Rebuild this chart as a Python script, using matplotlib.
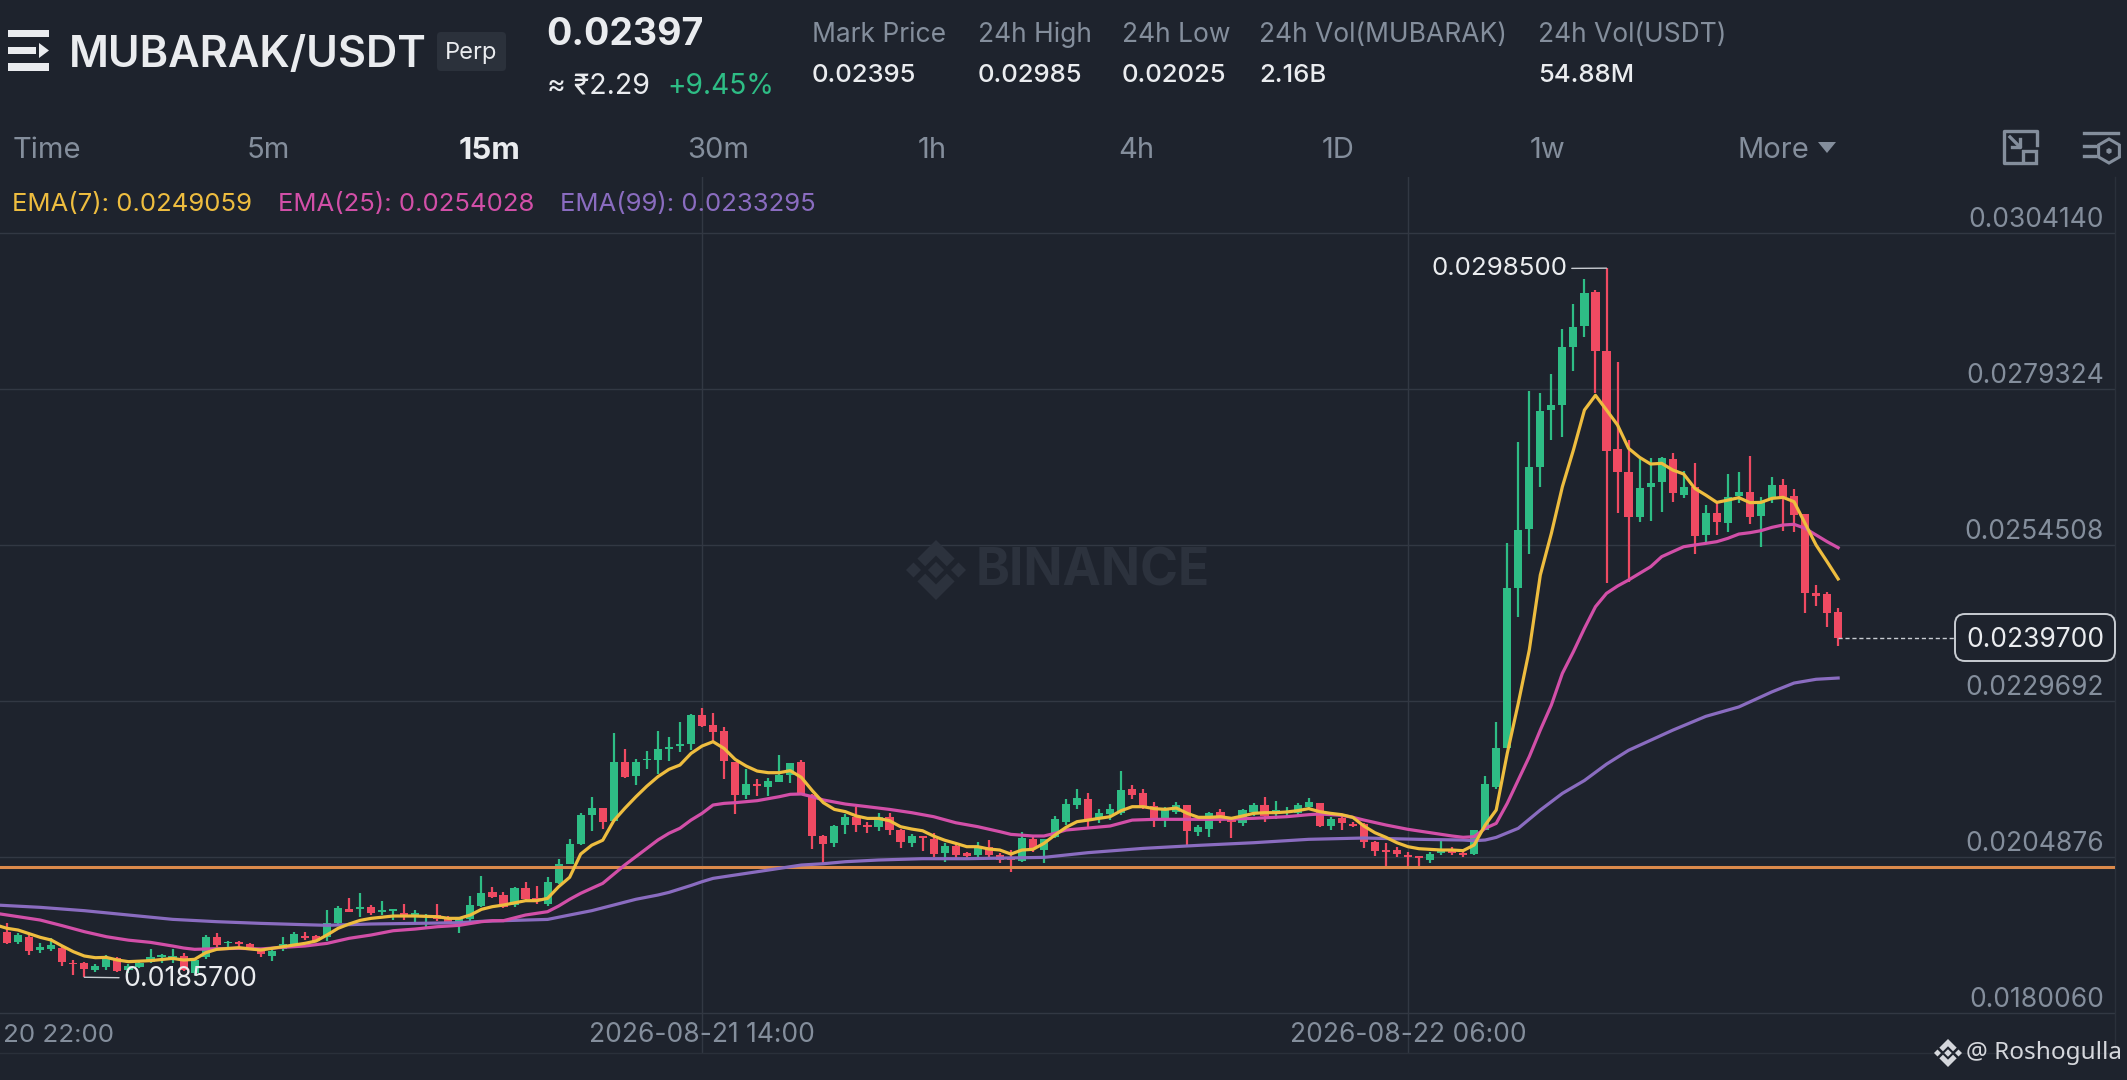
import numpy as np
import matplotlib
matplotlib.use("Agg")
import matplotlib.pyplot as plt
from matplotlib.patches import FancyBboxPatch, Polygon, Rectangle, RegularPolygon

plt.rcParams['font.family'] = ['Inter', 'DejaVu Sans']

# price unit used in the lists below
UNIT = 1e-5

# candle index, 0 is 2026-08-21 14:00, 15m candles
first_candle = -63

opens = [
    1929.5, 1913.6, 1920.5, 1900.3, 1901.4, 1903, 1880.2, 1879.1, 1868.5, 1873.8,
    1888.1, 1868.5, 1873.8, 1881.8, 1889.7, 1885.5, 1890.8, 1863.7, 1888.6, 1921.5,
    1911, 1912.5, 1909.9, 1901.4, 1890.8, 1902.4, 1909.9, 1923.1, 1922.6, 1920.5,
    1942.7, 1965, 1965, 1969.3, 1960.8, 1962.9, 1959.7, 1953.3, 1953.3, 1956,
    1952.3, 1942.7, 1949, 1970.3, 1993, 1987.8, 1972, 1998.5, 1982.5, 1973.5,
    2007.4, 2037.1, 2068.9, 2114.5, 2126.2, 2106, 2198.8, 2177.1, 2202, 2202.5,
    2220.6, 2224.8, 2228, 2273.6, 2257.7, 2249.2, 2199.4, 2146.9, 2164.4, 2160.1,
    2168.1, 2179.2, 2199.4, 2146.9, 2081.6, 2070, 2099.1, 2111.3, 2098.6, 2096.5,
    2111.3, 2091.2, 2071, 2081.6, 2077.4, 2054, 2065.7, 2054, 2050.9, 2064.7,
    2051.5, 2048.8, 2042.4, 2077.4, 2059.4, 2080.6, 2104.5, 2131, 2141, 2108.2,
    2116.7, 2117.7, 2155.9, 2149.6, 2129.4, 2109.8, 2120.4, 2130.5, 2088, 2092.3,
    2120.4, 2108.2, 2102.9, 2120.4, 2131, 2117.7, 2117.7, 2118.8, 2128.3, 2134.7,
    2097.6, 2109.8, 2100.8, 2100.8, 2072.7, 2059.4, 2059.4, 2051.5, 2049.9, 2043.5,
    2054.1, 2059.4, 2055.2, 2053, 2091.2, 2160.2, 2221, 2475.6, 2569.5, 2669.2,
    2759.4, 2767.3, 2859, 2893, 2947.6, 2853.7, 2697.3, 2660.2, 2589.7, 2636.3,
    2645.3, 2680.9, 2624.1, 2637.4, 2561, 2595, 2580.1, 2622.5, 2629.4, 2590.7,
    2618.8, 2640, 2622.5, 2593.9, 2467.7, 2466.6, 2437.4,
]
highs = [
    1942.7, 1928, 1924, 1910.9, 1918.9, 1906.7, 1884.4, 1881.8, 1878, 1892.4,
    1889.7, 1878, 1884.4, 1902.4, 1893.4, 1901.4, 1896, 1888, 1924.7, 1926.8,
    1914, 1915, 1912, 1903.5, 1901.4, 1920.5, 1929, 1929, 1923.6, 1964,
    1970.3, 1982.5, 1990.5, 1971.9, 1978.8, 1966, 1973.5, 1964, 1957.6, 1973.5,
    1954.4, 1953.3, 1986.2, 2018, 2001, 1993, 2000, 2009, 2002, 2016,
    2044.5, 2076.3, 2118.8, 2143.1, 2126.2, 2245, 2219.5, 2204.7, 2217.4, 2248.2,
    2239.7, 2263, 2275.7, 2285.3, 2277.8, 2254.5, 2199.4, 2187.7, 2171.8, 2173.9,
    2210, 2197.2, 2202.5, 2148.5, 2083.8, 2099.7, 2116.6, 2128.3, 2103.9, 2118.8,
    2117.7, 2093.3, 2084.8, 2081.6, 2087, 2071, 2069, 2056.7, 2072, 2075.3,
    2054, 2059.4, 2088.6, 2080.6, 2077.4, 2113.5, 2140, 2155.9, 2149.6, 2124.1,
    2132.6, 2185.6, 2162.8, 2155.9, 2136.3, 2128.3, 2136.3, 2130.5, 2099.7, 2120.4,
    2124.1, 2112.4, 2124.1, 2134.7, 2144.2, 2137.4, 2128.3, 2134.7, 2142.7, 2134.7,
    2111.4, 2113.5, 2104.5, 2102.9, 2074.3, 2070, 2064.7, 2056.8, 2049.9, 2056.8,
    2075.3, 2064.7, 2056.8, 2091.2, 2177, 2263, 2547.2, 2709, 2790, 2786.9,
    2816.1, 2887.7, 2928, 2968.3, 2950.3, 2985, 2836.2, 2711.6, 2682.5, 2682.5,
    2685.1, 2691.5, 2662.8, 2675.6, 2608.2, 2610.9, 2657, 2661.2, 2686.2, 2620.4,
    2653.3, 2650, 2633.1, 2593.9, 2480.4, 2470.3, 2443.8,
]
lows = [
    1910, 1910, 1892.4, 1896, 1899.3, 1874.9, 1860.5, 1857, 1865.3, 1868.5,
    1865.9, 1863, 1871.7, 1879.1, 1879.1, 1880.2, 1867.4, 1860, 1885.5, 1904.6,
    1904.6, 1904.6, 1901.4, 1888.6, 1882.8, 1899.3, 1907.7, 1916.2, 1913, 1915.2,
    1941.7, 1960.8, 1952.3, 1956, 1956.5, 1948, 1948, 1945.4, 1937.4, 1947,
    1941.7, 1926.8, 1944.9, 1968.2, 1982.5, 1966.6, 1969.3, 1978.8, 1973.5, 1970.3,
    2005.3, 2037.1, 2067.9, 2090.1, 2092.2, 2104.4, 2174, 2163.3, 2188.2, 2180.3,
    2200.4, 2215.3, 2218.5, 2254.5, 2233.3, 2172.8, 2116.6, 2140, 2145.3, 2145.3,
    2168.1, 2166.5, 2146.9, 2061.5, 2038.2, 2063.6, 2084.8, 2088, 2087, 2090.1,
    2083.8, 2062.5, 2064.7, 2057.2, 2047.7, 2040.3, 2044.5, 2044.5, 2048.8, 2044.5,
    2038.2, 2024.9, 2040.3, 2056.7, 2039.3, 2078, 2098.6, 2124.1, 2095.5, 2102.9,
    2107.1, 2114.6, 2140, 2124.1, 2096.5, 2095.5, 2116.7, 2065.8, 2081.7, 2080.6,
    2102.9, 2078, 2097.6, 2113.5, 2104.5, 2109.2, 2113.5, 2115.1, 2124.1, 2095.5,
    2091.2, 2091.2, 2095.5, 2062, 2049.9, 2033.9, 2048.8, 2030.2, 2033.9, 2038.2,
    2051.5, 2051.5, 2047.7, 2051.5, 2091, 2157, 2221, 2430.6, 2530.3, 2637.4,
    2711.6, 2716.9, 2821.9, 2876, 2785.9, 2483.6, 2595, 2486.2, 2581.7, 2583.3,
    2597.6, 2613.5, 2618.8, 2530.3, 2549.9, 2560.5, 2565.8, 2610.9, 2578, 2542,
    2610.9, 2567, 2565.8, 2436.9, 2447.5, 2414.6, 2383.9,
]
closes = [
    1912, 1924, 1899.3, 1904.6, 1908.3, 1881.8, 1878.6, 1869.6, 1875.4, 1887,
    1867, 1874.9, 1880, 1888.6, 1892.4, 1890.8, 1868.5, 1884.4, 1921.5, 1908.3,
    1913.6, 1909.3, 1903, 1893.4, 1899.3, 1909.9, 1925.8, 1920, 1914.6, 1943.8,
    1967.1, 1960.8, 1969.3, 1959.7, 1964, 1965.5, 1953.3, 1959.7, 1956, 1949,
    1945.4, 1949, 1971.9, 1991.5, 1985, 1969.3, 1998.5, 1981, 1978.8, 2009,
    2037, 2068.9, 2115, 2125.6, 2104.4, 2199.4, 2176, 2199.4, 2204.7, 2220,
    2223.8, 2228, 2274.7, 2256.6, 2247.6, 2200.4, 2146.3, 2164.4, 2161.2, 2169.7,
    2178.7, 2197.2, 2146.9, 2081.6, 2068.9, 2097.5, 2111.3, 2098.6, 2095.4, 2111.3,
    2091.2, 2072.6, 2081.6, 2079, 2053, 2065.7, 2052, 2049.8, 2064.7, 2050.9,
    2043.5, 2043.5, 2078, 2061.5, 2077.4, 2108.2, 2132.6, 2141.6, 2108.2, 2118.8,
    2124.1, 2154.9, 2146.9, 2125.7, 2109.8, 2124.1, 2131, 2090.2, 2095.5, 2118.8,
    2108.2, 2104, 2123, 2131, 2113.5, 2123, 2122, 2131, 2136.3, 2097.6,
    2109.2, 2101.8, 2097.6, 2072.7, 2058.3, 2056.2, 2053, 2048.8, 2046.7, 2053,
    2059.4, 2054.1, 2051.5, 2091.2, 2163.9, 2221.1, 2475.6, 2568.4, 2669.2, 2758.3,
    2767.3, 2859, 2890.9, 2946, 2853.7, 2694.7, 2661.2, 2588.6, 2635.3, 2643.7,
    2682.5, 2626.8, 2637.4, 2558.9, 2595, 2581.2, 2621.5, 2629.4, 2589.7, 2613.5,
    2640, 2621, 2592.3, 2468.8, 2464, 2437, 2397,
]

# EMA lines at these candles
ema7_idx = [-64, -63, -62, -60, -59, -58, -57, -56, -55, -54, -53, -52, -50, -48, -47, -46, -45, -44, -42, -40,
            -38, -36, -35, -34, -33, -32, -31, -30, -28, -26, -24, -23, -22, -21, -20, -19, -18, -16, -15, -14,
            -13, -12, -11, -10, -9, -8, -7, -6, -5, -4, -3, -2, -1, 0, 1, 2, 3, 4, 5, 6,
            7, 8, 9, 10, 11, 12, 13, 14, 15, 16, 17, 18, 19, 20, 21, 22, 23, 24, 25, 26,
            27, 28, 29, 30, 31, 32, 33, 34, 35, 36, 37, 38, 39, 40, 41, 42, 43, 44, 45, 46,
            47, 48, 49, 50, 51, 52, 53, 54, 55, 56, 57, 58, 59, 60, 61, 62, 63, 64, 65, 66,
            67, 68, 69, 70, 71, 72, 73, 74, 75, 76, 77, 78, 79, 80, 81, 82, 83, 84, 85, 86,
            87, 88, 89, 90, 91, 92, 93, 94, 95, 96, 97, 98, 99, 100, 101, 102, 103]
ema7_vals = [1940, 1934.8, 1932.1, 1920.5, 1916.2, 1906.7, 1897.7, 1890.8, 1888.1, 1888.6, 1884.4, 1881.8, 1883.4, 1887, 1884.4, 1885.5, 1896, 1901.4, 1904, 1900.3,
             1905.6, 1910.9, 1914.6, 1924.2, 1934.8, 1941.7, 1947.5, 1950.7, 1954.4, 1954.4, 1953.3, 1950.7, 1950.7, 1956, 1965, 1969.3, 1971.9, 1978.8, 1978.8, 1982.5,
             2001, 2016, 2053, 2067, 2075, 2106, 2125.7, 2144, 2161, 2176, 2187.7, 2194.6, 2213, 2224.8, 2231.7, 2221, 2203.6, 2193, 2185, 2182.4,
             2182.4, 2185.6, 2175, 2153.8, 2134.7, 2124, 2120.4, 2113.5, 2109.7, 2109.7, 2106, 2096.5, 2092.8, 2090, 2081.6, 2075, 2070, 2064.7, 2064.7, 2061,
             2059.4, 2053, 2059.4, 2060.5, 2070, 2083.3, 2095.5, 2104.5, 2107, 2109.8, 2112.4, 2122, 2128.3, 2128.3, 2125.2, 2124.1, 2126.2, 2117.7, 2111.4, 2111.4,
             2112.4, 2109.8, 2113.5, 2117.7, 2118.8, 2118.8, 2119.9, 2122, 2125.2, 2120.4, 2117.7, 2115.6, 2111.4, 2097.6, 2087, 2079.6, 2071, 2064.7, 2061.5, 2060.5,
             2059.4, 2059.4, 2058.4, 2067.4, 2099, 2123, 2213, 2292.7, 2377.6, 2496.9, 2563, 2637.4, 2695.7, 2759.3, 2782.7, 2759.3, 2735.5, 2698.4, 2684, 2673.4,
             2674.5, 2663.9, 2657.5, 2634.7, 2624, 2612.4, 2616, 2619.9, 2612, 2612.4, 2618.8, 2620.4, 2613.5, 2579, 2544.6, 2518, 2490.6]

ema25_idx = [-64, -60, -58, -56, -54, -52, -50, -48, -47, -46, -44, -42, -40, -38, -36, -34, -32, -30, -28, -26,
             -24, -22, -20, -19, -18, -16, -14, -13, -12, -11, -10, -9, -8, -7, -6, -5, -4, -3, -2, -1,
             0, 1, 2, 3, 5, 7, 8, 9, 10, 11, 13, 15, 17, 19, 21, 23, 25, 27, 28, 30,
             31, 32, 33, 35, 37, 39, 41, 44, 47, 50, 53, 55, 56, 58, 59, 60, 62, 64, 66, 68,
             69, 70, 71, 72, 73, 74, 75, 76, 77, 78, 79, 80, 81, 82, 83, 84, 85, 86, 87, 88,
             89, 90, 91, 92, 93, 94, 95, 96, 97, 98, 99, 100, 101, 102, 103]
ema25_vals = [1958.7, 1948, 1939, 1929.5, 1921.5, 1916, 1912.5, 1906.7, 1903.5, 1901.4, 1902.4, 1903, 1902, 1904.6, 1906.7, 1910.9, 1918.9, 1924.2, 1931, 1933.7,
              1937.4, 1939.6, 1945.4, 1947, 1947, 1956, 1961.3, 1970.3, 1981, 1990.5, 1998.5, 2006.4, 2021, 2035.6, 2048.8, 2062, 2075.3, 2086, 2094, 2107,
              2117.7, 2131, 2133.6, 2134.7, 2137.9, 2144.2, 2148, 2148.5, 2144.2, 2139, 2132.5, 2128.3, 2124, 2118.8, 2112.4, 2102.8, 2096.5, 2088.6, 2084.3, 2081.7,
              2081.7, 2086, 2091.2, 2094.4, 2097.6, 2107, 2108.2, 2108.2, 2108.2, 2109.8, 2112.4, 2115.6, 2116.7, 2114.6, 2111.4, 2107.1, 2099.2, 2092.3, 2087, 2081.7,
              2079.6, 2080.6, 2093.9, 2101.8, 2133.6, 2170.8, 2207.9, 2250.3, 2290, 2340.4, 2374.9, 2412, 2446.5, 2467.7, 2479.3, 2488.9, 2499.5, 2510, 2526, 2534,
              2541.9, 2544.6, 2547.2, 2549.9, 2555.2, 2562, 2564.2, 2567.4, 2572.7, 2576.4, 2577.5, 2571.1, 2560.5, 2549.9, 2540.3]

ema99_idx = [-64, -60, -56, -52, -48, -44, -40, -36, -34, -30, -26, -22, -20, -19, -16, -14, -12, -10, -8, -6,
             -4, -3, -1, 0, 1, 3, 6, 9, 11, 13, 16, 20, 24, 27, 31, 35, 40, 45, 50, 55,
             60, 65, 69, 70, 71, 72, 74, 76, 78, 80, 82, 84, 88, 91, 94, 97, 99, 101, 103]
ema99_vals = [1971.9, 1968.2, 1962.9, 1956, 1949.1, 1945.4, 1942.7, 1940.6, 1939.6, 1941.7, 1942.7, 1943.8, 1945.9, 1946.5, 1948, 1949, 1956, 1962.9, 1971.9, 1981,
              1987.8, 1992, 2003, 2009, 2014.3, 2019.6, 2027.5, 2035.5, 2037.6, 2040.8, 2043.5, 2045.6, 2045.6, 2046.5, 2047.7, 2055.2, 2062, 2066.8, 2071, 2076.4,
              2078.5, 2076.4, 2075.3, 2074.2, 2075.3, 2079.5, 2093.9, 2123, 2149.5, 2170, 2196, 2218, 2250, 2272, 2287, 2311, 2325, 2331, 2333]

grid_prices = [0.0304140, 0.0279324, 0.0254508, 0.0229692, 0.0204876, 0.0180060]
grid_labels = ['0.0304140', '0.0279324', '0.0254508', '0.0229692', '0.0204876', '0.0180060']
time_ticks = [0, 64]
time_labels = ['2026-08-21 14:00', '2026-08-22 06:00']

level_price = 0.02033
last_price = 0.02397
high_price = 0.02985
high_candle = 82
low_price = 0.01857
low_candle = -56

stat_titles = ['Mark Price', '24h High', '24h Low', '24h Vol(MUBARAK)', '24h Vol(USDT)']
stat_values = ['0.02395', '0.02985', '0.02025', '2.16B', '54.88M']
intervals = ['Time', '5m', '15m', '30m', '1h', '4h', '1D', '1w']

BG = '#1e232d'
GRID = '#323843'
EDGE = '#2a303a'
UP = '#2ebd85'
DOWN = '#ef4a62'
GRAY = '#848e9c'
WHITE = '#eaecef'
EMA7 = '#eebd3f'
EMA25 = '#d24fa8'
EMA99 = '#8a6cc0'
W, H = 2127, 1080


def binance_logo(axis, cx, cy, s, color):
    # s is half the logo width in pixels
    for dx, dy, r in [(-0.75, 0, 0.25), (0.75, 0, 0.25), (0, 0, 0.27)]:
        axis.add_patch(RegularPolygon((cx + dx * s, cy + dy * s), 4, radius=r * s, color=color, linewidth=0))
    for sign in [-1, 1]:
        pts = [[0, 1], [0.62, 0.38], [0.36, 0.12], [0, 0.48], [-0.36, 0.12], [-0.62, 0.38]]
        axis.add_patch(Polygon([[cx + a * s, cy + sign * b * s] for a, b in pts], color=color, linewidth=0))


fig = plt.figure(figsize=(W / 100, H / 100), dpi=100, facecolor=BG)

# chart axes: one candle is 11.03 px, 0.0024816 is 156 px
left_i, right_i = -66, 128.1
left_px = 702 + left_i * 11.03
ax = fig.add_axes([left_px / W, (H - 1053) / H, (2115 - left_px) / W, (1053 - 177) / H], facecolor=BG)
ax.set_xlim(left_i, right_i)
ax.set_ylim(0.017365, 0.03130)

for s in ['left', 'top']:
    ax.spines[s].set_visible(False)
for s in ['right', 'bottom']:
    ax.spines[s].set_color(EDGE)
    ax.spines[s].set_linewidth(1)

ax.set_yticks(grid_prices)
ax.set_yticklabels([])
ax.set_xticks(time_ticks)
ax.set_xticklabels(time_labels)
ax.tick_params(axis='y', length=0)
ax.tick_params(axis='x', length=0, pad=-22.5, labelsize=19, labelcolor=GRAY)
ax.grid(True, color=GRID, linewidth=1)
ax.set_axisbelow(True)

# the first date label is cut by the left edge in the picture
fig.text(3 / W, (H - 1035) / H, '20 22:00', color=GRAY, fontsize=18.7, va='center')

for price, label in zip(grid_prices, grid_labels):
    ax.annotate(label, (1, price), xycoords=('axes fraction', 'data'), xytext=(-8, 8.8),
                textcoords='offset points', ha='right', va='center', color=GRAY, fontsize=19)

# candles
o = np.array(opens) * UNIT
h = np.array(highs) * UNIT
l = np.array(lows) * UNIT
c = np.array(closes) * UNIT
xs = np.arange(first_candle, first_candle + len(o))
colors = [UP if close >= open_ else DOWN for open_, close in zip(o, c)]
ax.vlines(xs, l, h, colors=colors, linewidth=1.6, zorder=3)
ax.bar(xs, np.abs(c - o), bottom=np.minimum(o, c), width=0.74, color=colors, linewidth=0, zorder=3)

ax.axhline(level_price, color='#dc8a4b', linewidth=2.2, zorder=4)

ax.plot(ema99_idx, np.array(ema99_vals) * UNIT, color=EMA99, linewidth=2.3, zorder=5)
ax.plot(ema25_idx, np.array(ema25_vals) * UNIT, color=EMA25, linewidth=2.3, zorder=6)
ax.plot(ema7_idx, np.array(ema7_vals) * UNIT, color=EMA7, linewidth=2.3, zorder=7)

# high / low markers
ax.annotate('0.0298500', (high_candle, high_price), xytext=(-28, -0.5), textcoords='offset points',
            ha='right', va='center', color=WHITE, fontsize=18.7, zorder=8,
            arrowprops=dict(arrowstyle='-', color='#c8ccd2', linewidth=1, shrinkA=1, shrinkB=0))
ax.annotate('0.0185700', (low_candle, low_price), xytext=(28, -1), textcoords='offset points',
            ha='left', va='center', color=WHITE, fontsize=19.2, zorder=8,
            arrowprops=dict(arrowstyle='-', color='#c8ccd2', linewidth=1, shrinkA=1, shrinkB=0))

# last price
ax.plot([xs[-1], 113.5], [last_price, last_price], color='#c8ccd2', linewidth=1, dashes=(3, 2), zorder=8)

# everything around the chart, in pixels
ui = fig.add_axes([0, 0, 1, 1], facecolor='none')
ui.set_xlim(0, W)
ui.set_ylim(H, 0)
ui.axis('off')

# watermark
binance_logo(ui, 936, 570, 30, '#2c323d')
ui.text(1093, 572, 'BINANCE', color='#2c323d', fontsize=37, fontweight='bold', ha='center', va='center')

# header
ui.add_patch(Rectangle((8, 30), 41, 7, color=WHITE, linewidth=0))
ui.add_patch(Rectangle((8, 47), 28, 7, color=WHITE, linewidth=0))
ui.add_patch(Rectangle((8, 63), 41, 8, color=WHITE, linewidth=0))
ui.add_patch(Polygon([[39, 43], [49, 50.5], [39, 58]], color=WHITE, linewidth=0))
ui.text(69, 55, 'MUBARAK/USDT', color=WHITE, fontsize=31.2, fontweight='semibold', va='center')
ui.add_patch(FancyBboxPatch((440, 35), 63, 33, boxstyle='round,pad=3,rounding_size=4', facecolor='#2b313b', linewidth=0))
ui.text(471, 53, 'Perp', color=WHITE, fontsize=17, ha='center', va='center')
ui.text(546, 35, '0.02397', color=WHITE, fontsize=27, fontweight='bold', va='center')
ui.text(547, 86, '≈ ₹2.29', color=WHITE, fontsize=20.5, va='center')
ui.text(667, 86, '+9.45%', color=UP, fontsize=20.3, va='center')

stat_x = [812, 978, 1122, 1259, 1538]
for x, title, value in zip(stat_x, stat_titles, stat_values):
    ui.text(x, 35, title, color=GRAY, fontsize=19, va='center')
    ui.text(x, 75, value, color=WHITE, fontsize=18.5, va='center', fontweight='medium')

# interval bar
interval_x = [13, 247, 459, 687, 918, 1118, 1322, 1530]
for x, name in zip(interval_x, intervals):
    active = name == '15m'
    ui.text(x, 151, name, color=WHITE if active else GRAY, fontsize=22.5 if active else 21,
            fontweight='bold' if active else 'normal', va='center')
ui.text(1737, 151, 'More', color=GRAY, fontsize=21, va='center')
ui.add_patch(Polygon([[1818, 142], [1836, 142], [1827, 153]], color=GRAY, linewidth=0))

# the two icons top right
ui.plot([2037, 2037, 2004, 2004, 2020], [145, 131, 131, 163, 163], color=GRAY, linewidth=2.4)
ui.plot([2010, 2020], [137, 147], color=GRAY, linewidth=2.4)
ui.plot([2012, 2020, 2020], [147, 147, 139], color=GRAY, linewidth=2.4)
ui.add_patch(Rectangle((2023, 151), 13, 12, fill=False, edgecolor=GRAY, linewidth=2.4))
ui.plot([2084, 2118], [133, 133], color=GRAY, linewidth=2.4)
ui.plot([2084, 2095], [146, 146], color=GRAY, linewidth=2.4)
ui.plot([2084, 2095], [156, 156], color=GRAY, linewidth=2.4)
ui.add_patch(RegularPolygon((2109, 151), 6, radius=12, fill=False, edgecolor=GRAY, linewidth=2.2))
ui.add_patch(RegularPolygon((2109, 151), 6, radius=3, color=GRAY, linewidth=0))

# EMA legend
ui.text(12, 205, 'EMA(7): 0.0249059', color=EMA7, fontsize=18.5, va='center')
ui.text(278, 205, 'EMA(25): 0.0254028', color=EMA25, fontsize=18.5, va='center')
ui.text(560, 205, 'EMA(99): 0.0233295', color=EMA99, fontsize=18.5, va='center')

# last price box
ui.add_patch(FancyBboxPatch((1962, 621), 146, 33, boxstyle='round,pad=7,rounding_size=10',
                            facecolor=BG, edgecolor='#c8ccd2', linewidth=1.4))
ui.text(2035, 640, '0.0239700', color=WHITE, fontsize=19, ha='center', va='center')

# signature
binance_logo(ui, 1948, 1053, 14, '#d5d7dc')
ui.text(1966, 1053, '@ Roshogulla', color='#d5d7dc', fontsize=17.5, family=['Noto Sans', 'DejaVu Sans'], va='center')

fig.savefig('out.png', dpi=100, facecolor=BG)
